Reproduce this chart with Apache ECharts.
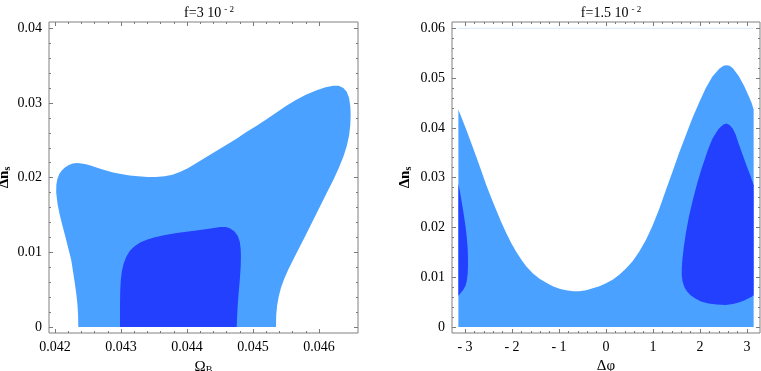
<!DOCTYPE html>
<html>
<head>
<meta charset="utf-8">
<script src="https://cdn.jsdelivr.net/npm/echarts@6/dist/echarts.min.js"></script>
<style>
  html, body { margin: 0; padding: 0; background: #fff; }
  #chart { width: 761px; height: 371px; }
</style>
</head>
<body>
<div id="chart"></div>
<script>
var PI = Math.PI;

// left panel: contour of f=3e-2, (Omega_B, delta n_s)
var leftOuter = [
    [0.042353, 0], [0.042350, 0.0015], [0.042340, 0.0030], [0.042322, 0.0045],
    [0.042298, 0.0060], [0.042272, 0.0075], [0.042245, 0.0090], [0.042202, 0.0105],
    [0.042160, 0.0120], [0.042115, 0.0135], [0.042072, 0.0150], [0.042038, 0.0165],
    [0.042018, 0.0180], [0.042020, 0.0190], [0.042035, 0.0198], [0.042065, 0.0205],
    [0.042105, 0.0210], [0.042155, 0.0214], [0.042210, 0.0217], [0.042270, 0.0219],
    [0.042335, 0.02195], [0.042400, 0.0219], [0.042470, 0.0218], [0.042550, 0.0216],
    [0.042650, 0.0213], [0.042760, 0.0210], [0.042880, 0.0207], [0.043000, 0.0205],
    [0.043130, 0.0203], [0.043260, 0.0202], [0.043400, 0.0201], [0.043530, 0.0201],
    [0.043660, 0.0202], [0.043780, 0.0204], [0.043900, 0.0208], [0.044020, 0.0213],
    [0.044150, 0.0220], [0.044300, 0.0228], [0.044450, 0.0236], [0.044600, 0.0244],
    [0.044750, 0.0252], [0.044900, 0.0261], [0.045050, 0.0269], [0.045200, 0.0278],
    [0.045350, 0.0287], [0.045500, 0.0296], [0.045650, 0.0304], [0.045800, 0.0311],
    [0.045965, 0.0317], [0.046100, 0.0321], [0.046217, 0.0323], [0.046300, 0.0323],
    [0.046369, 0.0320], [0.046420, 0.0315], [0.046455, 0.0307], [0.046474, 0.0296],
    [0.046480, 0.0284], [0.046474, 0.0270], [0.046455, 0.0256], [0.046420, 0.0242],
    [0.046369, 0.0228], [0.046295, 0.0212], [0.046217, 0.0197], [0.046132, 0.0182],
    [0.046047, 0.0167], [0.045962, 0.0152], [0.045877, 0.0137], [0.045792, 0.0122],
    [0.045707, 0.0107], [0.045620, 0.0092], [0.045540, 0.0078], [0.045475, 0.0065],
    [0.045425, 0.0053], [0.045390, 0.0041], [0.045366, 0.0029], [0.045352, 0.0016],
    [0.045348, 0]
];
var leftInner = [
    [0.042985, 0], [0.042985, 0.0030], [0.042988, 0.0048], [0.042996, 0.0062],
    [0.043012, 0.0074], [0.043040, 0.0085], [0.043080, 0.0094], [0.043135, 0.0102],
    [0.043205, 0.0108], [0.043290, 0.0113], [0.043390, 0.0117], [0.043500, 0.0120],
    [0.043650, 0.0123], [0.043844, 0.0126], [0.044020, 0.0128], [0.044197, 0.0130],
    [0.044360, 0.0132], [0.044500, 0.0134], [0.044590, 0.0134], [0.044655, 0.0132],
    [0.044720, 0.0128], [0.044770, 0.0122], [0.044800, 0.0114], [0.044814, 0.0104],
    [0.044817, 0.0093], [0.044813, 0.0080], [0.044800, 0.0063], [0.044782, 0.0045],
    [0.044765, 0.0025], [0.044753, 0]
];

// right panel: contour of f=1.5e-2, (delta phi, delta n_s)
var rightOuter = [
    [-PI, 0], [-PI, 0.0437], [-3.05, 0.0415], [-2.972, 0.0396], [-2.87, 0.0370],
    [-2.76, 0.0342], [-2.65, 0.0313], [-2.548, 0.0285], [-2.44, 0.0259],
    [-2.336, 0.0235], [-2.23, 0.0211], [-2.123, 0.0189], [-2.02, 0.0169],
    [-1.911, 0.0151], [-1.80, 0.0135], [-1.699, 0.0122], [-1.56, 0.0108],
    [-1.415, 0.0097], [-1.27, 0.0089], [-1.132, 0.0082], [-0.99, 0.0077],
    [-0.849, 0.0074], [-0.70, 0.0072], [-0.566, 0.0072], [-0.42, 0.0074],
    [-0.283, 0.0078], [-0.14, 0.0082], [0, 0.0088], [0.14, 0.0095],
    [0.283, 0.0105], [0.42, 0.0117], [0.566, 0.0132], [0.706, 0.0151],
    [0.849, 0.0175], [0.988, 0.0203], [1.132, 0.0237], [1.271, 0.0274],
    [1.415, 0.0312], [1.553, 0.0349], [1.699, 0.0385], [1.835, 0.0419],
    [1.982, 0.0451], [2.119, 0.0479], [2.265, 0.0503], [2.41, 0.0519],
    [2.50, 0.0525], [2.563, 0.0526], [2.63, 0.0525], [2.70, 0.0520],
    [2.824, 0.0504], [2.94, 0.0484], [3.036, 0.0464], [3.10, 0.0450],
    [PI, 0.0437], [PI, 0]
];
var rightInnerL = [
    [-PI, 0.0288], [-3.105, 0.0270], [-3.078, 0.0255], [-3.03, 0.0228],
    [-2.986, 0.0200], [-2.960, 0.0178], [-2.944, 0.0158], [-2.937, 0.0140],
    [-2.937, 0.0122], [-2.945, 0.0106], [-2.962, 0.0093], [-2.990, 0.0083],
    [-3.03, 0.0076], [-3.078, 0.0070], [-PI, 0.0063]
];
var rightInnerR = [
    [PI, 0.0285], [3.07, 0.0305], [3.0, 0.0322], [2.90, 0.0348], [2.824, 0.0368],
    [2.76, 0.0386], [2.70, 0.0398], [2.63, 0.0406], [2.563, 0.0409], [2.50, 0.0407],
    [2.45, 0.0403], [2.39, 0.0397], [2.33, 0.0388], [2.27, 0.0379], [2.22, 0.0368],
    [2.17, 0.0356], [2.119, 0.0342], [2.03, 0.0317], [1.941, 0.0289],
    [1.85, 0.0256], [1.765, 0.0222], [1.70, 0.0189], [1.655, 0.0160],
    [1.625, 0.0135], [1.612, 0.0118], [1.612, 0.0104], [1.628, 0.0092],
    [1.665, 0.0081], [1.72, 0.0072], [1.80, 0.0064], [1.90, 0.0057],
    [2.02, 0.0051], [2.18, 0.0047], [2.36, 0.0045], [2.54, 0.0044],
    [2.70, 0.0046], [2.824, 0.0049], [2.94, 0.0053], [3.036, 0.0058],
    [3.10, 0.0061], [PI, 0.0064]
];
var rightTopLine = [[-PI, 0.06], [PI, 0.06]];

// ticks
var leftXTicks = [0.042, 0.043, 0.044, 0.045, 0.046];
var leftXLabels = ['0.042', '0.043', '0.044', '0.045', '0.046'];
var leftYTicks = [0, 0.01, 0.02, 0.03, 0.04];
var leftYLabels = ['0', '0.01', '0.02', '0.03', '0.04'];
var rightXTicks = [-3, -2, -1, 0, 1, 2, 3];
var rightXLabels = ['- 3', '- 2', '- 1', '0', '1', '2', '3'];
var rightYTicks = [0, 0.01, 0.02, 0.03, 0.04, 0.05, 0.06];
var rightYLabels = ['0', '0.01', '0.02', '0.03', '0.04', '0.05', '0.06'];

var LIGHT = '#4ba1ff';
var DARK = '#2340ff';
var FONT = '"Liberation Serif", "Times New Roman", serif';
var TICK = '#7a7a7a';

function minorsOf(majors, n) {
    var out = [];
    for (var i = 0; i < majors.length - 1; i++) {
        var step = (majors[i + 1] - majors[i]) / n;
        for (var k = 1; k < n; k++) out.push(+(majors[i] + k * step).toFixed(6));
    }
    return out;
}

function labelOf(ticks, labels) {
    return function (v) {
        for (var i = 0; i < ticks.length; i++) {
            if (Math.abs(ticks[i] - v) < 1e-9) return labels[i];
        }
        return '';
    };
}

// one axis (major or minor ticks) along one side of a grid
function axis(g, pos, min, max, vals, len, labels, extra) {
    var a = {
        type: 'value', gridIndex: g, position: pos, min: min, max: max,
        axisLine: { show: false, onZero: false },
        splitLine: { show: false },
        axisTick: { show: true, inside: true, length: len, customValues: vals,
                    lineStyle: { color: TICK, width: 1 } },
        axisLabel: { show: false }
    };
    if (labels) {
        a.axisLabel = {
            show: true, customValues: vals, formatter: labelOf(vals, labels),
            margin: 7, color: '#000', fontFamily: FONT, fontSize: 14
        };
    }
    for (var k in extra) a[k] = extra[k];
    return a;
}

function frameAxes(g, xr, yr, xT, xL, yT, yL, xn, yn, xMinor, yMinor) {
    return {
        x: [
            axis(g, 'bottom', xr[0], xr[1], xT, 4, xL, xn),
            axis(g, 'bottom', xr[0], xr[1], xMinor, 2),
            axis(g, 'top', xr[0], xr[1], xT, 4),
            axis(g, 'top', xr[0], xr[1], xMinor, 2)
        ],
        y: [
            axis(g, 'left', yr[0], yr[1], yT, 4, yL, yn),
            axis(g, 'left', yr[0], yr[1], yMinor, 2),
            axis(g, 'right', yr[0], yr[1], yT, 4),
            axis(g, 'right', yr[0], yr[1], yMinor, 2)
        ]
    };
}

var yNameRich = {
    a: { fontFamily: FONT, fontSize: 15, fontWeight: 'bold', lineHeight: 17, color: '#000' },
    b: { fontFamily: FONT, fontSize: 10, fontWeight: 'bold', lineHeight: 11, padding: [6, 0, 0, 0], color: '#000' }
};
var xNameRich = {
    a: { fontFamily: FONT, fontSize: 15, lineHeight: 15, color: '#000' },
    b: { fontFamily: FONT, fontSize: 10, lineHeight: 10, padding: [6, 0, 0, 0], color: '#000' }
};

var leftAx = frameAxes(0, [0.041909, 0.046591], [-0.000804, 0.040844],
    leftXTicks, leftXLabels, leftYTicks, leftYLabels,
    { name: '{a|Ω}{b|B}', nameLocation: 'middle', nameGap: 16, nameTextStyle: { rich: xNameRich } },
    { name: '{a|Δn}{b|s}', nameLocation: 'middle', nameGap: 36, nameRotate: 90, nameTextStyle: { rich: yNameRich } },
    minorsOf(leftXTicks, 5), minorsOf(leftYTicks, 5));
var rightAx = frameAxes(1, [-3.277, 3.277], [-0.001205, 0.061266],
    rightXTicks, rightXLabels, rightYTicks, rightYLabels,
    { name: 'Δφ', nameLocation: 'middle', nameGap: 19, nameTextStyle: { fontFamily: FONT, fontSize: 15, color: '#000' } },
    { name: '{a|Δn}{b|s}', nameLocation: 'middle', nameGap: 38, nameRotate: 90, nameTextStyle: { rich: yNameRich } },
    minorsOf(rightXTicks, 5), minorsOf(rightYTicks, 5));

function polygon(name, pts, color, xi, yi) {
    return {
        name: name, type: 'custom', xAxisIndex: xi, yAxisIndex: yi,
        silent: true, animation: false, color: color,
        data: pts,
        renderItem: function (params, api) {
            if (params.context.rendered) return;
            params.context.rendered = true;
            var p = [];
            for (var i = 0; i < pts.length; i++) p.push(api.coord(pts[i]));
            return { type: 'polygon', shape: { points: p }, style: { fill: color } };
        }
    };
}

var titleRich = {
    a: { fontFamily: FONT, fontSize: 14, fontWeight: 'normal', lineHeight: 16, color: '#000' },
    s: { fontFamily: FONT, fontSize: 9, fontWeight: 'normal', lineHeight: 10, padding: [0, 0, 7, 3], color: '#000' }
};

var gridBase = {
    top: 22, height: 311, show: true, borderColor: '#808080', borderWidth: 1,
    backgroundColor: 'transparent', containLabel: false, outerBoundsMode: 'none'
};

var chart = echarts.init(document.getElementById('chart'), null, { renderer: 'canvas' });
chart.setOption({
    animation: false,
    backgroundColor: '#fff',
    title: [
        { text: '{a|f=3 10}{s|- 2}', left: 204, top: 0, textAlign: 'center',
          textStyle: { fontWeight: 'normal', rich: titleRich } },
        { text: '{a|f=1.5 10}{s|- 2}', left: 606, top: 0, textAlign: 'center',
          textStyle: { fontWeight: 'normal', rich: titleRich } }
    ],
    grid: [
        echarts.util.extend({ left: 49, width: 309 }, gridBase),
        echarts.util.extend({ left: 452, width: 308 }, gridBase)
    ],
    xAxis: leftAx.x.concat(rightAx.x),
    yAxis: leftAx.y.concat(rightAx.y),
    series: [
        polygon('outer', leftOuter, LIGHT, 0, 0),
        polygon('inner', leftInner, DARK, 0, 0),
        polygon('outer', rightOuter, LIGHT, 4, 4),
        polygon('innerL', rightInnerL, DARK, 4, 4),
        polygon('innerR', rightInnerR, DARK, 4, 4),
        {
            type: 'line', xAxisIndex: 4, yAxisIndex: 4, data: rightTopLine,
            symbol: 'none', silent: true, animation: false,
            lineStyle: { color: '#d4eaff', width: 1 }
        }
    ]
});
</script>
</body>
</html>
